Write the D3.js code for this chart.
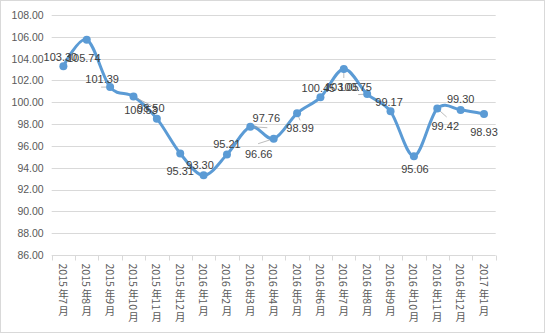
<!DOCTYPE html>
<html>
<head>
<meta charset="utf-8">
<script src="https://cdn.jsdelivr.net/npm/d3@7/dist/d3.min.js"></script>
<style>
  html, body { margin: 0; padding: 0; background: #fff; }
  svg { display: block; }
</style>
</head>
<body>
<svg id="chart" width="545" height="333"></svg>
<script>
// Monthly index, 2015-07 .. 2017-01
const months = [
  "2015年7月", "2015年8月", "2015年9月", "2015年10月", "2015年11月", "2015年12月",
  "2016年1月", "2016年2月", "2016年3月", "2016年4月", "2016年5月", "2016年6月",
  "2016年7月", "2016年8月", "2016年9月", "2016年10月", "2016年11月", "2016年12月",
  "2017年1月"
];
const values = [
  103.30, 105.74, 101.39, 100.53, 98.50, 95.31,
  93.30, 95.21, 97.76, 96.66, 98.99, 100.45,
  103.05, 100.75, 99.17, 95.06, 99.42, 99.30,
  98.93
];
const yTicks = [86, 88, 90, 92, 94, 96, 98, 100, 102, 104, 106, 108];

// Label placement relative to each point (label centre offset)
const labelOffsets = [
  [-3, -9], [-3, 18.7], [-8, -8], [7.5, 14], [-6, -10.6], [0, 18],
  [-3.5, -10], [0, -10.7], [16, -8.4], [-15, 15.7], [3, 15], [-2, -9],
  [-2, 18.3], [-12, -6.7], [-1.5, -9], [1, 13], [8, 17.7], [0, -11.3],
  [0, 18.3]
];
// Leader lines from a point to its moved label (end offset from the point)
const leaders = {
  2: [-9, 0], 3: [23, 11.6], 8: [17, 1], 9: [-15.6, 5],
  10: [3, 7], 12: [0, 9], 13: [-9, 0.5], 16: [9.4, 8.4]
};

const svg = d3.select("#chart");
const W = 545, H = 333;
const plot = { left: 51.7, right: 495.7, top: 15, bottom: 255 };

svg.append("rect")
  .attr("x", 0.5).attr("y", 0.5)
  .attr("width", W - 1).attr("height", H - 1)
  .attr("fill", "#fff").attr("stroke", "#d9d9d9");

const x = d3.scaleBand().domain(months).range([plot.left, plot.right]);
const y = d3.scaleLinear().domain([86, 108]).range([plot.bottom, plot.top]);

// horizontal gridlines
svg.append("g")
  .selectAll("line")
  .data(yTicks.filter(t => t !== 86))
  .join("line")
  .attr("x1", plot.left).attr("x2", plot.right)
  .attr("y1", d => Math.round(y(d)) + 0.5).attr("y2", d => Math.round(y(d)) + 0.5)
  .attr("stroke", "#d9d9d9").attr("stroke-width", 1);

// y axis labels
const yAxis = d3.axisLeft(y).tickValues(yTicks).tickFormat(d3.format(".2f")).tickSize(0).tickPadding(8);
const gy = svg.append("g").attr("transform", `translate(${plot.left},0)`).call(yAxis);
gy.select(".domain").remove();
gy.selectAll("text")
  .attr("fill", "#595959")
  .style("font-family", "'Liberation Sans', Arial, sans-serif")
  .style("font-size", "10.5px");

// x axis with ticks at category boundaries
const gx = svg.append("g").attr("transform", `translate(0,${Math.round(plot.bottom) + 0.5})`);
gx.append("line")
  .attr("x1", plot.left).attr("x2", plot.right)
  .attr("stroke", "#d9d9d9");
const bounds = months.map(m => x(m)).concat([plot.right]);
gx.selectAll("line.tick")
  .data(bounds)
  .join("line")
  .attr("class", "tick")
  .attr("x1", d => Math.round(d) + 0.5).attr("x2", d => Math.round(d) + 0.5)
  .attr("y1", 0).attr("y2", 5)
  .attr("stroke", "#d9d9d9");

// vertical category labels: digits turned sideways, CJK characters upright
const fs = 10.5;
months.forEach(m => {
  const cx = x(m) + x.bandwidth() / 2;
  const g = gx.append("g")
    .style("font-family", "'Noto Sans CJK SC', sans-serif")
    .style("font-size", fs + "px")
    .attr("fill", "#595959");
  let yc = 8;
  (m.match(/[0-9]+|[^0-9]/g) || []).forEach(seg => {
    if (/^[0-9]+$/.test(seg)) {
      const t = g.append("text")
        .attr("transform", `translate(${cx},${yc}) rotate(90)`)
        .attr("dominant-baseline", "central")
        .text(seg);
      yc += t.node().getComputedTextLength() + 1;
    } else {
      g.append("text")
        .attr("x", cx).attr("y", yc + fs / 2)
        .attr("text-anchor", "middle")
        .attr("dominant-baseline", "central")
        .text(seg);
      yc += fs;
    }
  });
});

// smoothed line
const pts = values.map((v, i) => [x(months[i]) + x.bandwidth() / 2, y(v)]);
const line = d3.line().curve(d3.curveCardinal.tension(0));
svg.append("path")
  .attr("d", line(pts))
  .attr("fill", "none")
  .attr("stroke", "#5b9bd5")
  .attr("stroke-width", 3)
  .attr("stroke-linejoin", "round")
  .attr("stroke-linecap", "round");

// leader lines
svg.append("g")
  .selectAll("line")
  .data(Object.entries(leaders))
  .join("line")
  .attr("x1", d => pts[+d[0]][0]).attr("y1", d => pts[+d[0]][1])
  .attr("x2", d => pts[+d[0]][0] + d[1][0]).attr("y2", d => pts[+d[0]][1] + d[1][1])
  .attr("stroke", "#a6a6a6").attr("stroke-width", 0.75);

// markers
svg.append("g")
  .selectAll("circle")
  .data(pts)
  .join("circle")
  .attr("cx", d => d[0]).attr("cy", d => d[1])
  .attr("r", 4)
  .attr("fill", "#5b9bd5");

// data labels
svg.append("g")
  .selectAll("text")
  .data(values)
  .join("text")
  .attr("x", (d, i) => pts[i][0] + labelOffsets[i][0])
  .attr("y", (d, i) => pts[i][1] + labelOffsets[i][1])
  .attr("text-anchor", "middle")
  .attr("dominant-baseline", "central")
  .style("font-family", "'Liberation Sans', Arial, sans-serif")
  .style("font-size", "11px")
  .attr("fill", "#404040")
  .text(d => d.toFixed(2));
</script>
</body>
</html>
